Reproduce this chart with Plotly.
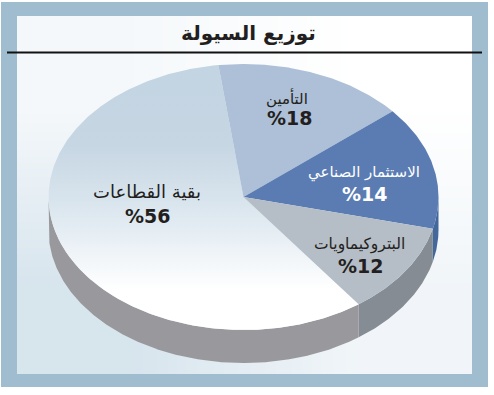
import numpy as np
import plotly.graph_objects as go

# Data
title = "توزيع السيولة"
categories = ["التأمين", "الاستثمار الصناعي", "البتروكيماويات", "بقية القطاعات"]
labelled_pct = [18, 14, 12, 56]
# Share of the ellipse each wedge actually occupies in the drawing
drawn_share = [15.9, 15.0, 11.1, 58.0]
top_colors = ["#aec0d7", "#5a7cb2", "#b5bdc6", None]
side_colors = ["#8d97a5", "#44689c", "#858c94", "#99999d"]
text_colors = ["#231f20", "#ffffff", "#231f20", "#231f20"]
name_xy = [(287, 98), (364, 172), (359, 244), (147, 191)]
pct_xy = [(289, 118), (364, 194), (360, 266), (147, 216)]
name_sizes = [15, 15, 15.5, 18]

W, H = 494, 395
CX, CY, RX, RY, DEPTH = 243.5, 197, 195, 133, 33
START = -7.4

def rim(a0, a1, dy=0):
    t = np.radians(np.linspace(a0, a1, max(int(abs(a1 - a0)) * 2, 4)))
    return CX + RX * np.sin(t), CY - RY * np.cos(t) + dy

edges = START + np.cumsum([0] + drawn_share) * 3.6

fig = go.Figure()

# Panel gradient
fig.add_trace(go.Heatmap(
    x=[17, 244, 472], y=[16, 194, 374], z=[[0.22, 0.0], [0.88, 0.32]], zsmooth="best",
    zmin=0, zmax=1, showscale=False, hoverinfo="skip",
    colorscale=[[0, "#ffffff"], [1, "#d2e1eb"]]))

# Side walls (only the front half of the disc is visible)
for i in range(4):
    a0, a1 = max(edges[i], 90), min(edges[i + 1], 270)
    if a1 <= a0:
        continue
    x0, y0 = rim(a0, a1)
    x1, y1 = rim(a1, a0, DEPTH)
    fig.add_trace(go.Scatter(
        x=np.r_[x0, x1], y=np.r_[y0, y1], mode="lines", fill="toself",
        line=dict(width=0), fillcolor=side_colors[i], hoverinfo="skip", showlegend=False))

# Top face wedges, largest first
for i in [3, 0, 1, 2]:
    x, y = rim(edges[i], edges[i + 1])
    kw = dict(fillcolor=top_colors[i]) if top_colors[i] else dict(
        fillgradient=dict(type="vertical", start=65, stop=330,
                          colorscale=[[0, "#c3d4e2"], [0.3, "#c6d6e3"], [0.55, "#dce7ef"], [0.85, "#ffffff"], [1, "#ffffff"]]))
    fig.add_trace(go.Scatter(
        x=np.r_[CX, x, CX], y=np.r_[CY, y, CY], mode="lines", fill="toself",
        line=dict(width=0), hoverinfo="skip", showlegend=False, **kw))

# Labels
for i, cat in enumerate(categories):
    fig.add_annotation(x=name_xy[i][0], y=name_xy[i][1], text=cat, showarrow=False,
                       font=dict(family="DejaVu Sans", size=name_sizes[i], color=text_colors[i]))
    fig.add_annotation(x=pct_xy[i][0], y=pct_xy[i][1], text=f"<b>%{labelled_pct[i]}</b>", showarrow=False,
                       font=dict(family="DejaVu Sans", size=19, color=text_colors[i]))
fig.add_annotation(x=248, y=33, text=f"<b>{title}</b>", showarrow=False,
                   font=dict(family="DejaVu Sans", size=20, color="#231f20"))

fig.update_layout(
    width=W, height=H, margin=dict(l=0, r=0, t=0, b=0), showlegend=False,
    paper_bgcolor="#ffffff", plot_bgcolor="#ffffff",
    xaxis=dict(range=[0, W], visible=False, fixedrange=True),
    yaxis=dict(range=[H, 0], visible=False, fixedrange=True),
    shapes=[
        dict(type="path", path="M1 2H488V387H1Z M17 16H472V374H17Z", fillrule="evenodd",
             line_width=0, fillcolor="#9fbdce", layer="above"),
        dict(type="line", x0=7, x1=482, y0=52.5, y1=52.5, line=dict(color="#111111", width=2), layer="above"),
    ])
fig.write_html("out.html", config=dict(displayModeBar=False),
               post_script="document.body.style.margin='0';document.body.style.overflow='hidden';")
